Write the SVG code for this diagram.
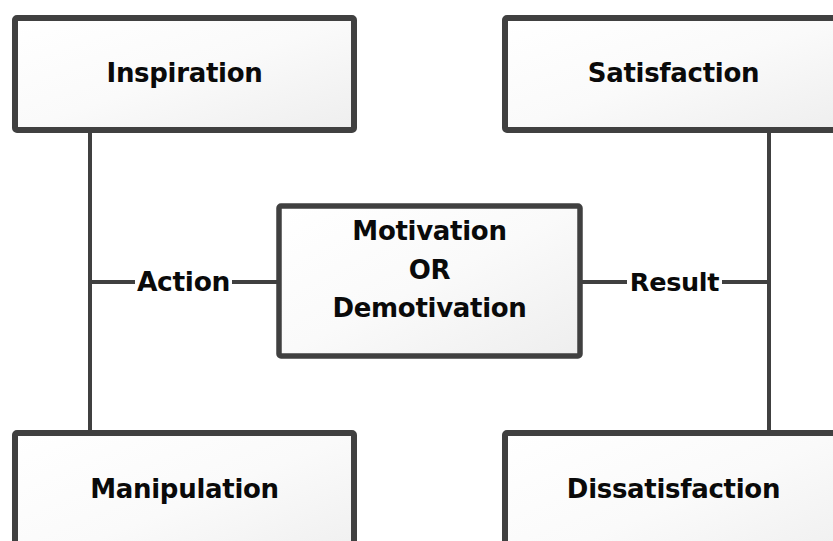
<svg xmlns="http://www.w3.org/2000/svg" width="833" height="541" viewBox="0 0 833 541">
  <defs>
    <linearGradient id="boxFill" x1="0" y1="0" x2="1" y2="1">
      <stop offset="0" stop-color="#ffffff"/>
      <stop offset="0.5" stop-color="#fafafa"/>
      <stop offset="1" stop-color="#eeeeee"/>
    </linearGradient>
    <style>
      .box { fill: url(#boxFill); stroke: #404040; stroke-width: 6; }
      .mid { fill: url(#boxFill); stroke: #404040; stroke-width: 5.5; }
      .wire { stroke: #404040; stroke-width: 4; fill: none; }
      text { font-family: "DejaVu Sans", Verdana, sans-serif; font-weight: bold; font-size: 26px; letter-spacing: -0.3px; fill: #0a0a0a; text-anchor: middle; }
      .lbl { font-size: 26.5px; }
    </style>
  </defs>
  <rect width="833" height="541" fill="#ffffff"/>

  <!-- connectors -->
  <g id="connectors">
    <line class="wire" x1="90" y1="130" x2="90" y2="433"/>
    <line class="wire" x1="769" y1="130" x2="769" y2="433"/>
    <line class="wire" x1="90" y1="282" x2="135" y2="282"/>
    <line class="wire" x1="232" y1="282" x2="279" y2="282"/>
    <line class="wire" x1="580" y1="282" x2="627" y2="282"/>
    <line class="wire" x1="722" y1="282" x2="769" y2="282"/>
    <text class="lbl" x="183.5" y="291">Action</text>
    <text class="lbl" x="674.5" y="291" style="font-size:25.5px">Result</text>
  </g>

  <g id="inspiration">
    <rect class="box" x="15" y="18" width="339" height="112" rx="2"/>
    <text x="184.5" y="82">Inspiration</text>
  </g>

  <g id="satisfaction">
    <rect class="box" x="505" y="18" width="339" height="112" rx="2"/>
    <text x="673.5" y="82">Satisfaction</text>
  </g>

  <g id="motivation">
    <rect class="mid" x="279" y="206" width="301" height="150" rx="2"/>
    <text x="429.5" y="240">Motivation</text>
    <text x="429.5" y="279">OR</text>
    <text x="429.5" y="317">Demotivation</text>
  </g>

  <g id="manipulation">
    <rect class="box" x="15" y="433" width="339" height="140" rx="2"/>
    <text x="184.5" y="498">Manipulation</text>
  </g>

  <g id="dissatisfaction">
    <rect class="box" x="505" y="433" width="339" height="140" rx="2"/>
    <text x="673.5" y="498">Dissatisfaction</text>
  </g>
</svg>
